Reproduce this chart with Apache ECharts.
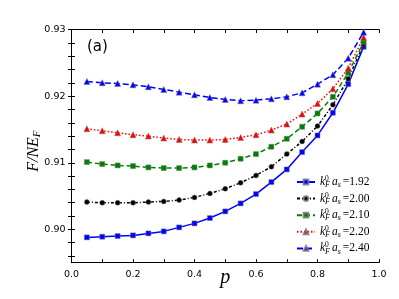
<!DOCTYPE html>
<html><head><meta charset="utf-8">
<script src="https://cdn.jsdelivr.net/npm/echarts@6/dist/echarts.min.js"></script>
<style>html,body{margin:0;padding:0;background:#fff}#c{width:399px;height:299px}</style>
</head><body><div id="c"></div>
<script>
const pValues = [0.05,0.10,0.15,0.20,0.25,0.30,0.35,0.40,0.45,0.50,0.55,0.60,0.65,0.70,0.75,0.80,0.85,0.90,0.95];
const s192 = [0.8988,0.8989,0.8990,0.8991,0.8994,0.8997,0.9003,0.9009,0.9017,0.9027,0.9039,0.9053,0.9071,0.9090,0.9116,0.9141,0.9175,0.9218,0.9274];
const s200 = [0.9041,0.9040,0.9040,0.9040,0.9041,0.9042,0.9044,0.9048,0.9054,0.9061,0.9070,0.9081,0.9094,0.9113,0.9132,0.9155,0.9187,0.9226,0.9278];
const s210 = [0.9101,0.9098,0.9096,0.9095,0.9093,0.9092,0.9092,0.9093,0.9096,0.9100,0.9106,0.9113,0.9124,0.9136,0.9154,0.9174,0.9199,0.9235,0.9281];
const s220 = [0.9151,0.9148,0.9145,0.9142,0.9140,0.9137,0.9135,0.9134,0.9134,0.9135,0.9138,0.9142,0.9149,0.9158,0.9173,0.9189,0.9211,0.9242,0.9288];
const s240 = [0.9222,0.9220,0.9219,0.9217,0.9214,0.9210,0.9206,0.9202,0.9198,0.9195,0.9193,0.9194,0.9196,0.9199,0.9205,0.9218,0.9232,0.9257,0.9296];
const seriesNames = ['1.92','2.00','2.10','2.20','2.40'];
const xTickLabels = [0.0,0.2,0.4,0.6,0.8,1.0];
const xTicks = [0,0.1,0.2,0.3,0.4,0.5,0.6,0.7,0.8,0.9,1.0];
const yTickLabels = [0.90,0.91,0.92,0.93];
const yTicks = [0.896,0.898,0.900,0.902,0.904,0.906,0.908,0.910,0.912,0.914,0.916,0.918,0.920,0.922,0.924,0.926,0.928,0.930];

const pair = arr => pValues.map((p,i)=>[p,arr[i]]);
const chart = echarts.init(document.getElementById('c'), null, {renderer:'canvas'});
const tickFont = {fontFamily:'DejaVu Sans', fontSize:9.5, color:'#000'};
const edge = {borderColor:'rgba(120,120,120,0.8)', borderWidth:0.6};
function mk(name, data, color, type, symbol, size){
  return {name, type:'line', data:pair(data), symbol, symbolSize:size, showSymbol:true,
    lineStyle:{color, width:1.5, type}, itemStyle:Object.assign({color}, edge), animation:false};
}
const serif = 'Liberation Serif';
chart.setOption({
  animation:false,
  grid:{left:71.5, right:20, top:29.5, bottom:36.3, outerBoundsMode:'none', containLabel:false},
  xAxis:[{type:'value', min:0, max:1, position:'bottom',
    name:'p', nameLocation:'middle', nameGap:5, nameMoveOverlap:false,
    nameTextStyle:{fontFamily:serif, fontStyle:'italic', fontSize:20, color:'#000'},
    axisLine:{show:true, lineStyle:{color:'#000', width:1}},
    axisTick:{show:true, inside:true, length:3.5, customValues:xTicks, lineStyle:{color:'#000'}},
    axisLabel:{show:true, customValues:xTickLabels, formatter:v=>v.toFixed(1), margin:7, ...tickFont},
    splitLine:{show:false}},
   {type:'value', min:0, max:1, position:'top',
    axisLine:{show:true, lineStyle:{color:'#000', width:1}},
    axisTick:{show:true, inside:true, length:3.5, customValues:xTicks, lineStyle:{color:'#000'}},
    axisLabel:{show:false}, splitLine:{show:false}}],
  yAxis:[{type:'value', min:0.895, max:0.93, position:'left',
    name:'{i|F/NE}{sub|F}', nameLocation:'middle', nameGap:29, nameRotate:90, nameMoveOverlap:false,
    nameTextStyle:{padding:[0,10,0,0], rich:{
      i:{fontFamily:serif, fontStyle:'italic', fontSize:16, color:'#000', lineHeight:18, verticalAlign:'middle'},
      sub:{fontFamily:serif, fontStyle:'italic', fontSize:11, color:'#000', lineHeight:18, verticalAlign:'bottom'}}},
    axisLine:{show:true, lineStyle:{color:'#000', width:1}},
    axisTick:{show:true, inside:true, length:3.5, customValues:yTicks, lineStyle:{color:'#000'}},
    axisLabel:{show:true, customValues:yTickLabels, formatter:v=>v.toFixed(2), margin:6, ...tickFont},
    splitLine:{show:false}},
   {type:'value', min:0.895, max:0.93, position:'right',
    axisLine:{show:true, lineStyle:{color:'#000', width:1}},
    axisTick:{show:true, inside:true, length:3.5, customValues:yTicks, lineStyle:{color:'#000'}},
    axisLabel:{show:false}, splitLine:{show:false}}],
  legend:{orient:'vertical', left:291, top:170, itemWidth:18, itemHeight:6, itemGap:2.6,
    data:seriesNames,
    formatter: n => '{i|k}{sup|0}{sub|F}{i|a}{sub|s}{n|=' + n + '}',
    textStyle:{rich:{
      i:{fontFamily:serif, fontStyle:'italic', fontSize:11.5, color:'#000', lineHeight:14, verticalAlign:'middle'},
      sup:{fontFamily:serif, fontSize:7.5, color:'#000', lineHeight:14, verticalAlign:'top', width:0, align:'left'},
      sub:{fontFamily:serif, fontStyle:'italic', fontSize:8, color:'#000', lineHeight:14, verticalAlign:'bottom', padding:[0,2,0,0]},
      n:{fontFamily:serif, fontSize:11.5, color:'#000', lineHeight:14, verticalAlign:'middle'}}}},
  graphic:[{type:'text', left:87, top:39.5, style:{text:'(a)', font:'15px "DejaVu Sans"', fill:'#000'}}],
  series:[
    mk('1.92', s192, '#0000ff', 'solid', 'rect', 5),
    mk('2.00', s200, '#000000', [3,2,1,2], 'circle', 5),
    mk('2.10', s210, '#008000', [5,3], 'rect', 5),
    mk('2.20', s220, '#ff0000', [1.5,2], 'triangle', 6),
    mk('2.40', s240, '#0000ff', [6,3], 'triangle', 6)
  ]
});
</script></body></html>
